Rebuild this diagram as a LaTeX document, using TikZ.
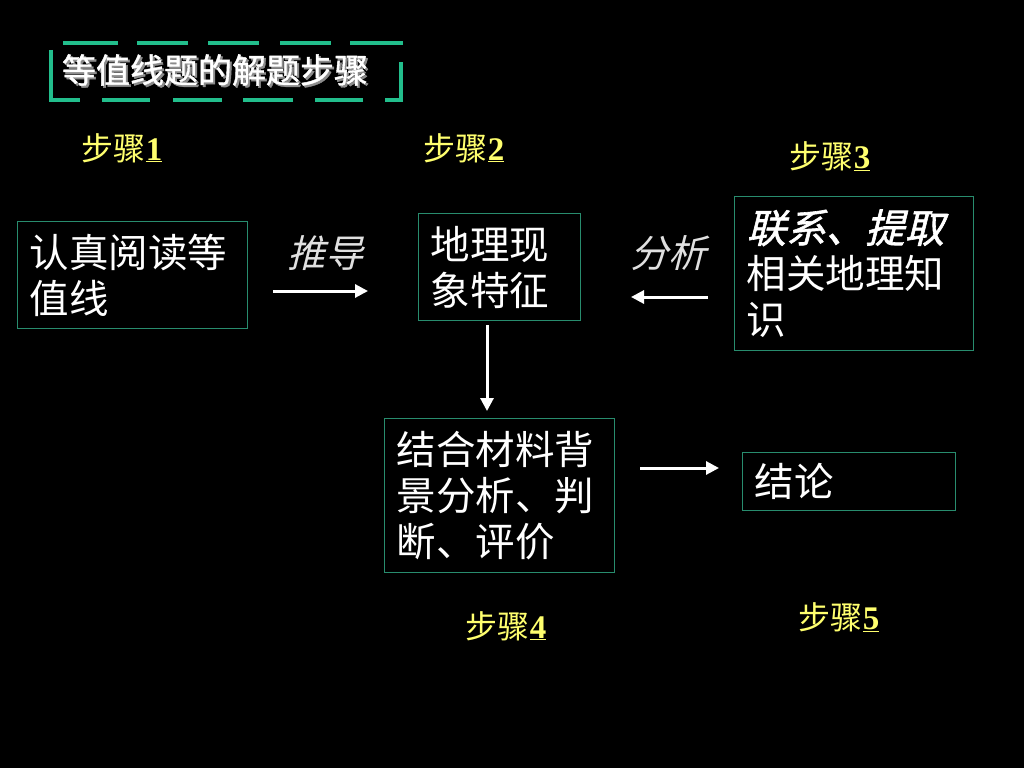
\documentclass[tikz,border=0pt]{standalone}
\usepackage{fontspec}
\setmainfont{Liberation Serif}
\newfontfamily\cjk{Noto Sans CJK SC}
\newfontfamily\cjkit[FakeSlant=0.25]{Noto Sans CJK SC}
\newfontfamily\cjkbi[FakeSlant=0.25,FakeBold=1.5]{Noto Sans CJK SC}
\newfontfamily\cjkbold[FakeBold=1.2]{Noto Sans CJK SC}
\usetikzlibrary{arrows.meta}
\definecolor{dashgreen}{RGB}{34,190,140}
\definecolor{boxgreen}{RGB}{40,140,110}
\definecolor{stepyellow}{RGB}{255,255,110}
\tikzset{
  box/.style={draw=boxgreen, line width=1.3pt, anchor=north west, inner xsep=12pt,
    align=left, text=white, font=\cjk\fontsize{39.5}{46}\selectfont},
  steplabel/.style={text=stepyellow, font=\cjk\fontsize{32}{34}\selectfont, inner sep=0pt},
  verb/.style={text=white!88!black, font=\cjkit\fontsize{38}{40}\selectfont, inner sep=0pt},
  arr/.style={draw=white, line width=3pt, -{Triangle[length=13pt,width=13pt]}},
  frame/.style={draw=dashgreen, line width=4pt}
}
\newcommand{\stepnum}[1]{{\rmfamily\bfseries\fontsize{33}{34}\selectfont\underline{#1}}}
\begin{document}
\begin{tikzpicture}[x=1pt,y=-1pt]
\fill[black] (0,0) rectangle (1024,768);
\useasboundingbox (0,0) rectangle (1024,768);
% title frame
\foreach \a/\b in {63/118,137/188,208/259,280/331,350/403} {\draw[frame] (\a,43) -- (\b,43);}
\foreach \a/\b in {50/80,102/150,173/222,243/293,315/363,385/403} {\draw[frame] (\a,100) -- (\b,100);}
\draw[frame] (51,50) -- (51,102);
\draw[frame] (401,62) -- (401,102);
\node[text=black!45, font=\cjkbold\fontsize{34}{36}\selectfont, inner sep=0pt] (titleshadow) at (217,72) {等值线题的解题步骤};
\node[text=white, font=\cjkbold\fontsize{34}{36}\selectfont, inner sep=0pt] (title) at (215,70) {等值线题的解题步骤};
% step labels
\node[steplabel] (s1) at (122,148) {步骤\stepnum{1}};
\node[steplabel] (s2) at (464,148) {步骤\stepnum{2}};
\node[steplabel] (s3) at (830,156) {步骤\stepnum{3}};
\node[steplabel] (s4) at (506,626) {步骤\stepnum{4}};
\node[steplabel] (s5) at (839,617) {步骤\stepnum{5}};
% boxes
\node[box, text width=206pt, minimum height=107pt] (b1) at (17,221) {认真阅读等\\值线};
\node[box, text width=138pt, minimum height=107pt] (b2) at (418,213) {地理现\\象特征};
\node[box, text width=215pt, minimum height=154pt] (b3) at (734,196) {{\cjkbi 联系、提取}\\相关地理知\\识};
\node[box, text width=206pt, minimum height=154pt] (b4) at (384,418) {结合材料背\\景分析、判\\断、评价};
\node[box, text width=189pt, minimum height=58pt] (b5) at (742,452) {结论};
% verbs
\node[verb] (v1) at (325,253) {推导};
\node[verb] (v2) at (668,253) {分析};
% arrow endpoints
\coordinate (a1s) at (273,291);
\coordinate (a1e) at (368,291);
\coordinate (a2s) at (708,297);
\coordinate (a2e) at (631,297);
\coordinate (a3s) at (487,325);
\coordinate (a3e) at (487,411);
\coordinate (a4s) at (640,468);
\coordinate (a4e) at (719,468);
\draw[arr] (a1s) -- (a1e);
\draw[arr] (a2s) -- (a2e);
\draw[arr] (a3s) -- (a3e);
\draw[arr] (a4s) -- (a4e);
\end{tikzpicture}
\end{document}
